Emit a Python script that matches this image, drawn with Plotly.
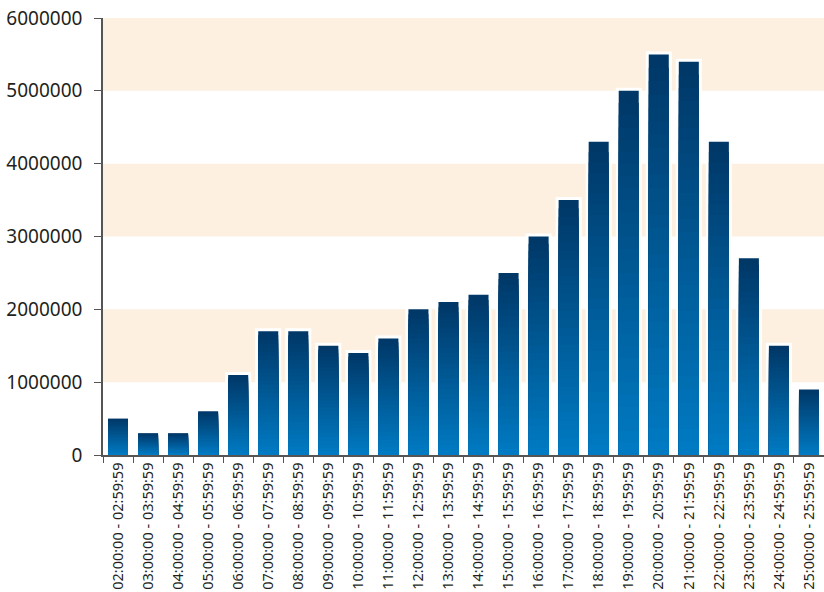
import plotly.graph_objects as go

categories = [f"{h:02d}:00:00 - {h:02d}:59:59" for h in range(2, 26)]
values = [500000, 300000, 300000, 600000, 1100000, 1700000, 1700000, 1500000,
          1400000, 1600000, 2000000, 2100000, 2200000, 2500000, 3000000, 3500000,
          4300000, 5000000, 5500000, 5400000, 4300000, 2700000, 1500000, 900000]
y_ticks = [0, 1000000, 2000000, 3000000, 4000000, 5000000, 6000000]

top_rgb = (0, 56, 104)
bot_rgb = (0, 122, 194)
N = 30

fig = go.Figure()
# outer bar with white halo
fig.add_trace(go.Bar(x=categories, y=values, marker=dict(color="rgb(0,56,104)",
                     line=dict(color="white", width=6)), hoverinfo="skip"))
for k in range(N):
    f = (N - k) / N
    t = k / (N - 1)
    c = tuple(round(top_rgb[i] + (bot_rgb[i] - top_rgb[i]) * t) for i in range(3))
    fig.add_trace(go.Bar(x=categories, y=[v * f for v in values],
                         marker=dict(color=f"rgb{c}", line=dict(width=0)),
                         hoverinfo="skip"))

shapes = []
for lo in (1000000, 3000000, 5000000):
    shapes.append(dict(type="rect", xref="paper", yref="y", x0=0, x1=1, y0=lo, y1=lo + 1000000,
                       fillcolor="#fdf0e0", line=dict(width=0), layer="below"))

fig.update_layout(
    width=824, height=592,
    margin=dict(l=103, r=0, t=18, b=137, autoexpand=False),
    barmode="overlay", bargap=1/3,
    showlegend=False,
    plot_bgcolor="white", paper_bgcolor="white",
    shapes=shapes,
    font=dict(family="Noto Sans", color="#231f20"),
    xaxis=dict(type="category", tickangle=-90, tickfont=dict(size=14.5),
               showline=True, linecolor="#555", linewidth=1.5,
               ticks="outside", tickson="boundaries", ticklen=6, tickcolor="#555",
               showgrid=False, range=[-0.5, 23.5], automargin=False),
    yaxis=dict(range=[0, 6000000], tickvals=y_ticks, tickformat="d",
               tickfont=dict(size=19), ticklabelstandoff=8,
               showline=True, linecolor="#555", linewidth=1.5,
               ticks="outside", ticklen=7, tickcolor="#555",
               showgrid=False, zeroline=False, automargin=False),
)
fig.write_html("out.html", config={"displayModeBar": False},
               post_script="document.body.style.margin='0';document.body.style.overflow='hidden';")
